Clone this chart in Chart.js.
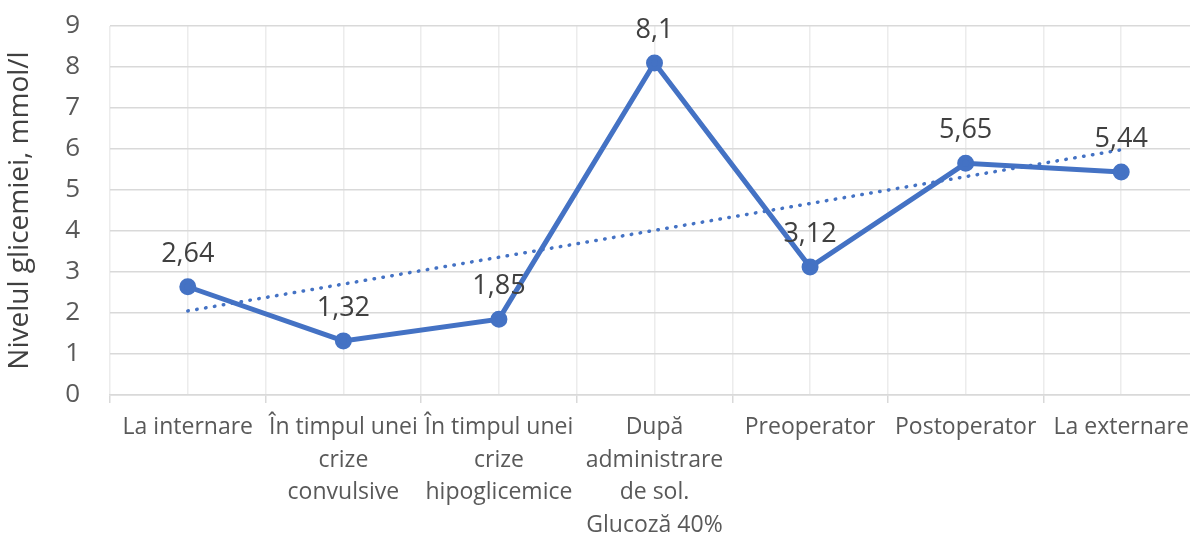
<!DOCTYPE html>
<html>
<head>
<meta charset="utf-8">
<script src="https://cdn.jsdelivr.net/npm/chart.js@4"></script>
<style>
  html, body { margin: 0; padding: 0; background: #fff; overflow: hidden; }
  #wrap { width: 1210px; height: 536px; position: relative; }
</style>
</head>
<body>
<div id="wrap"><canvas id="glyChart" width="1210" height="536"></canvas></div>
<script>
// categories (wrapped the way the axis shows them)
const categories = [
  ['La internare'],
  ['În timpul unei', 'crize', 'convulsive'],
  ['În timpul unei', 'crize', 'hipoglicemice'],
  ['După', 'administrare', 'de sol.', 'Glucoză 40%'],
  ['Preoperator'],
  ['Postoperator'],
  ['La externare']
];
const values = [2.64, 1.32, 1.85, 8.1, 3.12, 5.65, 5.44];
// dotted linear trend, read at first and last category
const trendEnds = [2.05, 5.98];
const yTicks = [0, 1, 2, 3, 4, 5, 6, 7, 8, 9];
const yTitle = 'Nivelul glicemiei, mmol/l';

const BLUE = '#4472C4';
const FONT = '"Open Sans", "Noto Sans", sans-serif';

// data labels above each point, Excel style ("8,1")
const valueLabels = {
  id: 'valueLabels',
  afterDatasetsDraw(chart) {
    const meta = chart.getDatasetMeta(1);
    const ctx = chart.ctx;
    ctx.save();
    ctx.font = '27px ' + FONT;
    ctx.fillStyle = '#404040';
    ctx.textAlign = 'center';
    ctx.textBaseline = 'alphabetic';
    meta.data.forEach((pt, i) => {
      ctx.fillText(String(values[i]).replace('.', ','), pt.x, pt.y - 25);
    });
    ctx.restore();
  }
};

new Chart(document.getElementById('glyChart'), {
  type: 'line',
  data: {
    datasets: [
      {
        label: 'trend',
        data: [{x: 0, y: trendEnds[0]}, {x: categories.length - 1, y: trendEnds[1]}],
        borderColor: BLUE,
        borderWidth: 3.5,
        borderDash: [0.5, 8.5],
        borderCapStyle: 'round',
        pointRadius: 0,
        order: 0
      },
      {
        label: 'glicemie',
        data: values.map((v, i) => ({x: i, y: v})),
        borderColor: BLUE,
        backgroundColor: BLUE,
        borderWidth: 5,
        pointRadius: 6,
        pointBackgroundColor: BLUE,
        pointBorderColor: BLUE,
        tension: 0,
        order: 1
      }
    ]
  },
  options: {
    responsive: false,
    animation: false,
    layout: { padding: { top: 26, right: 2, left: 0, bottom: 0 } },
    plugins: { legend: { display: false }, tooltip: { enabled: false } },
    scales: {
      x: {
        type: 'linear',
        min: -0.5,
        max: categories.length - 0.5,
        afterBuildTicks: s => {
          const t = [];
          for (let v = -0.5; v <= categories.length - 0.5; v += 0.5) t.push({ value: v });
          s.ticks = t;
        },
        afterFit: s => { s.height = 141; },
        ticks: {
          autoSkip: false,
          maxRotation: 0,
          padding: 8,
          color: '#595959',
          font: { family: FONT, size: 23, lineHeight: 1.42 },
          callback: v => Number.isInteger(v) ? categories[v] : ''
        },
        grid: {
          color: '#ececec',
          lineWidth: 1.5,
          tickLength: 8,
          tickColor: c => (c.tick && !Number.isInteger(c.tick.value)) ? '#d9d9d9' : 'rgba(0,0,0,0)'
        },
        border: { color: '#d9d9d9', width: 1.5 }
      },
      y: {
        min: 0,
        max: 9,
        afterBuildTicks: s => { s.ticks = yTicks.map(v => ({ value: v })); },
        afterFit: s => { s.width = 110; s.paddingTop = 0; s.paddingBottom = 0; },
        ticks: {
          padding: 30,
          color: '#595959',
          font: { family: FONT, size: 26 }
        },
        grid: { color: '#d9d9d9', lineWidth: 1.5, drawTicks: false },
        border: { display: false },
        title: {
          display: true,
          text: yTitle,
          color: '#404040',
          font: { family: FONT, size: 28 },
          padding: { top: 3, bottom: 0 }
        }
      }
    }
  },
  plugins: [valueLabels]
});
</script>
</body>
</html>
